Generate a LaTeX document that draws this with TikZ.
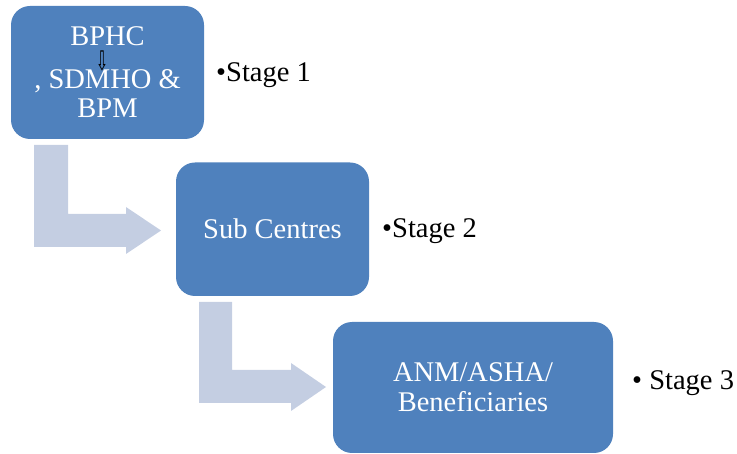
\documentclass[tikz,border=0pt]{standalone}
\usepackage{fontspec}
\setmainfont{LiberationSerif}[Extension=.ttf, UprightFont=*-Regular,
  BoldFont=*-Bold, ItalicFont=*-Italic, BoldItalicFont=*-BoldItalic]
\newfontfamily\symfont{DejaVu Sans}
\usepackage{tikz}
\usetikzlibrary{positioning, calc}

\begin{document}
\begin{tikzpicture}[
    x=1pt, y=-1pt,
    stagebox/.style={fill=cbox, rounded corners=19pt, align=center,
                     text=white, inner sep=0pt,
                     font=\rmfamily\fontsize{28.5}{30}\selectfont},
    stagelbl/.style={anchor=base west, inner sep=0pt,
                     font=\rmfamily\fontsize{28.5}{30}\selectfont},
    flow/.style={fill=cflow},
]
% ---- 颜色 ----
\definecolor{cbox}{HTML}{4F81BD}   % 方框
\definecolor{cflow}{HTML}{C4CEE2}  % 折线箭头
\useasboundingbox (0,0) rectangle (737,454);

% ---- 三级方框 ----
\node[stagebox, minimum width=193pt, minimum height=133pt,
      font=\rmfamily\fontsize{28.5}{29}\selectfont] (bphc) at (107.5,72.5)
      {BPHC\\[14pt], SDMHO \&\\BPM};
\node[stagebox, minimum width=193pt, minimum height=133.5pt]
      (sub) at (272.5,229.25) {Sub Centres};
\node[stagebox, minimum width=280pt, minimum height=131pt]
      (anm) at (473,387.5) {ANM/ASHA/\\Beneficiaries};
\node[inner sep=0pt, font=\symfont\fontsize{27}{27}\selectfont]
      (dn) at (102,61) {\scalebox{0.55}[1]{⇩}};

% ---- 阶段标注 ----
\node[stagelbl] (s1) at (216,82)  {•Stage 1};
\node[stagelbl] (s2) at (382,238) {•Stage 2};
\node[stagelbl] (s3) at (632,390) {• Stage 3};

% ---- 折线箭头 ----
\fill[flow] (34,145) -- (68,145) -- (68,214) -- (126,214) -- (126,207)
    -- (161,230.5) -- (126,254) -- (126,247) -- (34,247) -- cycle;
\fill[flow] (199,302) -- (232,302) -- (232,370) -- (291,370) -- (291,363)
    -- (326,387) -- (291,411) -- (291,403) -- (199,403) -- cycle;
\end{tikzpicture}
\end{document}
